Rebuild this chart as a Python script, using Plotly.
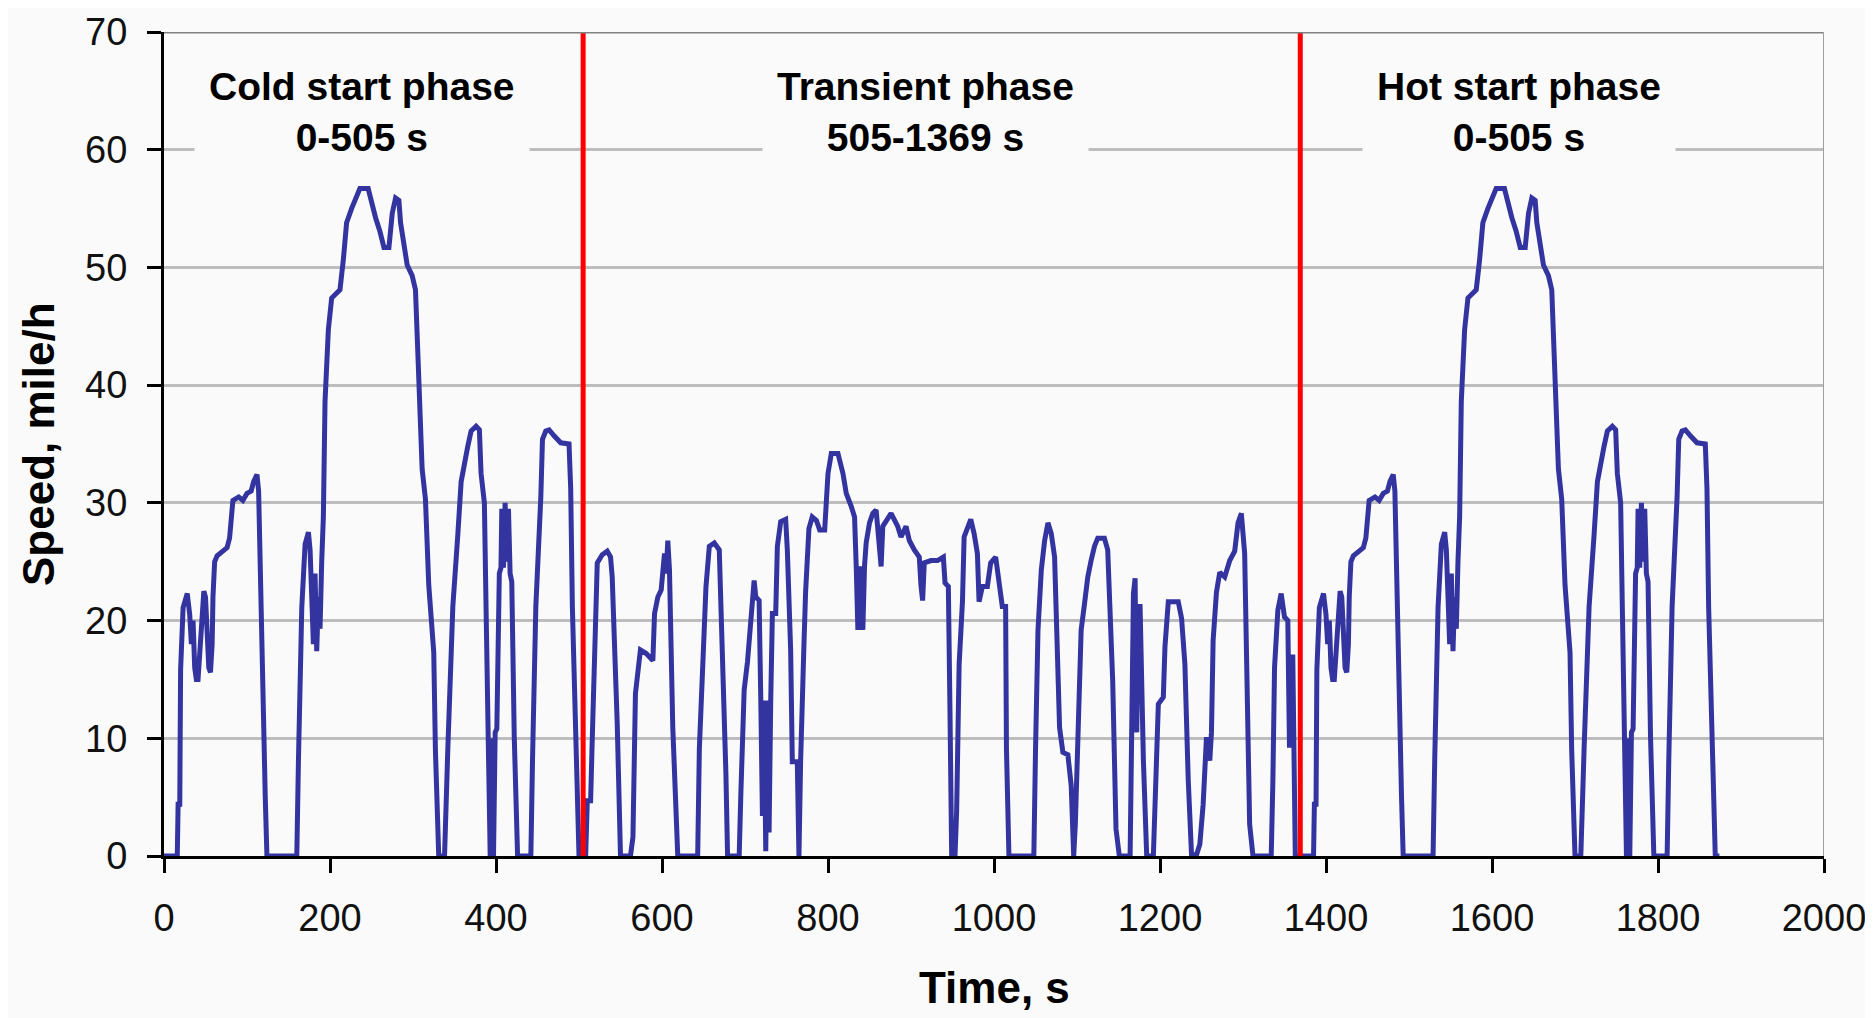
import plotly.graph_objects as go

# ---- data (time s, speed mile/h) ----
cold_start_phase = [
    (0, 0), (16, 0), (17, 4.4), (19, 4.4), (20, 15.8), (23, 21.1), (28, 22.3), (31, 20.5), (33, 18), (35, 20),
    (37, 16), (39, 15), (41, 15), (44, 18), (46, 21.5), (48, 22.5), (50, 22), (52, 19), (54, 16), (56, 15.6),
    (58, 18), (59, 22), (61, 25), (64, 25.5), (70, 25.8), (76, 26.2), (79, 27), (81, 29), (83, 30.2), (90, 30.5),
    (95, 30.2), (100, 30.8), (105, 31), (108, 31.8), (112, 32.4), (114, 31), (116, 23.5), (118, 17), (120, 10), (122, 5),
    (124, 0), (160, 0), (162, 8.2), (166, 21.1), (170, 26.5), (174, 27.5), (176, 26), (178, 22), (180, 18), (182, 24),
    (184, 17.4), (186, 22), (188, 19.3), (190, 25), (192, 28.8), (194, 38.6), (198, 44.7), (202, 47.4), (212, 48.1), (216, 50.6),
    (220, 53.8), (226, 55), (232, 56.1), (236, 56.7), (246, 56.7), (250, 55.4), (255, 54.2), (260, 53.1), (265, 51.7), (271, 51.7),
    (275, 54.6), (279, 55.9), (283, 55.7), (285, 53.8), (289, 51.6), (293, 50.2), (299, 49.3), (303, 48.1), (305, 44.3), (307, 39.4),
    (311, 32.9), (315, 30.3), (319, 23), (325, 17.3), (327, 9), (331, 0), (338, 0), (342, 9.2), (348, 21.2), (354, 27.3),
    (358, 31.8), (366, 34.8), (370, 36.1), (376, 36.5), (380, 36.2), (382, 32.5), (386, 30), (388, 21.2), (390, 10.4), (393, 0),
    (395, 10), (397, 0), (399, 10.5), (401, 10.8), (404, 24), (406, 24.5), (407, 29.5), (409, 24.5), (411, 30), (413, 25),
    (415, 29.5), (417, 24), (419, 23.3), (422, 10.1), (426, 0), (442, 0), (444, 8.2), (448, 21.2), (454, 30.5), (456, 35.4),
    (460, 36.1), (464, 36.2), (470, 35.7), (478, 35.1), (488, 35), (490, 31.2), (492, 21.2), (496, 12.1), (500, 0), (505, 0),
]

transient_phase = [
    (505, 0), (508, 0), (510, 4.7), (514, 4.7), (516, 10), (520, 21.7), (522, 24.9), (528, 25.6), (534, 25.9), (538, 25.4),
    (540, 23.7), (546, 11.4), (550, 0), (562, 0), (565, 1.6), (568, 13.8), (574, 17.5), (581, 17.2), (589, 16.6), (591, 20.6),
    (595, 22), (599, 22.6), (603, 25.7), (605, 24), (607, 26.8), (609, 24.3), (613, 10.9), (619, 0), (643, 0), (645, 9.1),
    (649, 16.3), (653, 22.9), (657, 26.3), (663, 26.6), (669, 26), (673, 17.2), (677, 7), (679, 0), (693, 0), (695, 5.3),
    (699, 14.1), (703, 16.5), (707, 20.6), (709, 22.4), (711, 23.4), (713, 22), (717, 21.7), (719, 13.4), (721, 3.4), (723, 13.2),
    (725, 0.4), (727, 13.2), (729, 2), (731, 13.2), (733, 20.6), (737, 20.6), (739, 26.3), (743, 28.4), (749, 28.6), (751, 26),
    (755, 17.5), (757, 8), (763, 8), (765, 0), (767, 8), (771, 17.9), (773, 22.4), (777, 27.8), (781, 28.8), (786, 28.5),
    (790, 27.7), (796, 27.7), (800, 32.5), (804, 34.2), (812, 34.2), (818, 32.5), (822, 30.8), (828, 29.7), (832, 28.8), (834, 24.6),
    (836, 19.2), (838, 24.6), (842, 19.2), (844, 24.6), (846, 26.6), (850, 28.3), (854, 29.1), (858, 29.4), (862, 26), (864, 24.6),
    (866, 28), (870, 28.5), (876, 29.1), (884, 28), (888, 27.1), (894, 28), (898, 26.8), (904, 26), (910, 25.4), (912, 23),
    (914, 21.7), (916, 24.9), (924, 25.1), (932, 25.1), (939, 25.4), (941, 23.2), (945, 22.9), (947, 12.1), (949, 0), (953, 0),
    (955, 3.8), (958, 16.3), (962, 21.6), (964, 27.1), (968, 28), (972, 28.6), (976, 27.4), (980, 25.7), (982, 21.6), (986, 22.9),
    (992, 22.9), (996, 24.9), (1002, 25.4), (1006, 23.4), (1010, 21.2), (1014, 21.2), (1015, 9.1), (1018, 0), (1048, 0), (1050, 8.9),
    (1053, 19.2), (1057, 24.3), (1061, 26.8), (1065, 28.3), (1069, 27.4), (1073, 25.4), (1075, 19.2), (1079, 10.9), (1083, 8.8), (1089, 8.6),
    (1093, 6), (1096, 0), (1098, 2.7), (1103, 13.5), (1105, 19.2), (1109, 21.4), (1113, 23.7), (1117, 25.1), (1121, 26.3), (1125, 27),
    (1133, 27), (1137, 26), (1139, 22.3), (1143, 14.9), (1147, 2.3), (1151, 0), (1164, 0), (1166, 10.4), (1168, 22.3), (1170, 23.6),
    (1172, 10.5), (1174, 21.2), (1176, 21.2), (1180, 8.1), (1184, 0), (1192, 0), (1194, 4.8), (1198, 12.9), (1204, 13.5), (1206, 17.8),
    (1210, 21.6), (1222, 21.6), (1226, 20.2), (1230, 16.3), (1234, 6.5), (1238, 0.1), (1244, 0.1), (1248, 1), (1252, 4.4), (1256, 10.1),
    (1260, 8.1), (1262, 10.5), (1264, 18.3), (1268, 22.4), (1272, 24.1), (1278, 23.7), (1284, 25.1), (1290, 25.9), (1294, 28.3), (1298, 29.1),
    (1302, 25.7), (1304, 16.3), (1308, 2.7), (1312, 0), (1334, 0), (1336, 6.4), (1338, 16), (1342, 20.9), (1346, 22.3), (1350, 20.3),
    (1354, 20), (1356, 9.2), (1358, 16.9), (1360, 16.9), (1363, 0), (1369, 0),
]

hot_start_phase = [
    (1369, 0), (1385, 0), (1386, 4.4), (1388, 4.4), (1389, 15.8), (1392, 21.1), (1397, 22.3), (1400, 20.5), (1402, 18), (1404, 20),
    (1406, 16), (1408, 15), (1410, 15), (1413, 18), (1415, 21.5), (1417, 22.5), (1419, 22), (1421, 19), (1423, 16), (1425, 15.6),
    (1427, 18), (1428, 22), (1430, 25), (1433, 25.5), (1439, 25.8), (1445, 26.2), (1448, 27), (1450, 29), (1452, 30.2), (1459, 30.5),
    (1464, 30.2), (1469, 30.8), (1474, 31), (1477, 31.8), (1481, 32.4), (1483, 31), (1485, 23.5), (1487, 17), (1489, 10), (1491, 5),
    (1493, 0), (1529, 0), (1531, 8.2), (1535, 21.1), (1539, 26.5), (1543, 27.5), (1545, 26), (1547, 22), (1549, 18), (1551, 24),
    (1553, 17.4), (1555, 22), (1557, 19.3), (1559, 25), (1561, 28.8), (1563, 38.6), (1567, 44.7), (1571, 47.4), (1581, 48.1), (1585, 50.6),
    (1589, 53.8), (1595, 55), (1601, 56.1), (1605, 56.7), (1615, 56.7), (1619, 55.4), (1624, 54.2), (1629, 53.1), (1634, 51.7), (1640, 51.7),
    (1644, 54.6), (1648, 55.9), (1652, 55.7), (1654, 53.8), (1658, 51.6), (1662, 50.2), (1668, 49.3), (1672, 48.1), (1674, 44.3), (1676, 39.4),
    (1680, 32.9), (1684, 30.3), (1688, 23), (1694, 17.3), (1696, 9), (1700, 0), (1707, 0), (1711, 9.2), (1717, 21.2), (1723, 27.3),
    (1727, 31.8), (1735, 34.8), (1739, 36.1), (1745, 36.5), (1749, 36.2), (1751, 32.5), (1755, 30), (1757, 21.2), (1759, 10.4), (1762, 0),
    (1764, 10), (1766, 0), (1768, 10.5), (1770, 10.8), (1773, 24), (1775, 24.5), (1776, 29.5), (1778, 24.5), (1780, 30), (1782, 25),
    (1784, 29.5), (1786, 24), (1788, 23.3), (1791, 10.1), (1795, 0), (1811, 0), (1813, 8.2), (1817, 21.2), (1823, 30.5), (1825, 35.4),
    (1829, 36.1), (1833, 36.2), (1839, 35.7), (1847, 35.1), (1857, 35), (1859, 31.2), (1861, 21.2), (1865, 12.1), (1869, 0), (1874, 0),
]

phase_boundaries = [505, 1369]
phase_labels = ["Cold start phase<br>0-505 s", "Transient phase<br>505-1369 s", "Hot start phase<br>0-505 s"]
phase_label_x = [239, 917, 1633]
phase_label_y = 63.2

x_ticks = list(range(0, 2001, 200))
y_ticks = list(range(0, 71, 10))

# ---- style ----
BG = "#FAFAFA"
BLUE = "#3434A0"
TICK_FONT = dict(family="Liberation Sans, Arial", size=38, color="#111111")
BOLD = "Liberation Sans, Arial"

fig = go.Figure()
for phase in (cold_start_phase, transient_phase, hot_start_phase):
    fig.add_trace(go.Scatter(
        x=[p[0] for p in phase], y=[p[1] for p in phase],
        mode="lines", line=dict(color=BLUE, width=5), showlegend=False, hoverinfo="skip",
    ))
for b in phase_boundaries:
    fig.add_trace(go.Scatter(
        x=[b, b], y=[0, 70], mode="lines", line=dict(color="#FF0000", width=5),
        showlegend=False, hoverinfo="skip",
    ))

for txt, lx in zip(phase_labels, phase_label_x):
    fig.add_annotation(
        x=lx, y=phase_label_y, xref="x", yref="y", text=f"<b>{txt}</b>", showarrow=False,
        font=dict(family=BOLD, size=39, color="#000000"), bgcolor=BG, borderpad=14,
        xanchor="center", yanchor="middle",
    )

fig.add_annotation(
    x=0.5, y=0, xref="paper", yref="paper", text="<b>Time, s</b>", showarrow=False,
    font=dict(family=BOLD, size=44, color="#000000"), xanchor="center", yanchor="middle", yshift=-131,
)
fig.add_annotation(
    x=0, y=0.5, xref="paper", yref="paper", text="<b>Speed, mile/h</b>", showarrow=False, textangle=-90,
    font=dict(family=BOLD, size=44, color="#000000"), xanchor="center", yanchor="middle", xshift=-126,
)

# plot area border (top and right, grey)
fig.add_shape(type="line", xref="paper", yref="y", x0=0, x1=1, y0=70, y1=70, line=dict(color="#808080", width=3))
fig.add_shape(type="line", xref="x", yref="paper", x0=2000, x1=2000, y0=0, y1=1, line=dict(color="#A0A0A0", width=2))

# the page body adds an 8 px offset, so the figure is 8 px smaller than the window
fig.update_layout(
    width=1865, height=1010,
    margin=dict(l=156, r=49, t=24, b=162, autoexpand=False),
    paper_bgcolor=BG, plot_bgcolor=BG,
    showlegend=False,
)
fig.update_xaxes(
    range=[0, 2000], tickvals=x_ticks, ticktext=[str(v) for v in x_ticks],
    showgrid=False, zeroline=False, showline=True, linecolor="#000000", linewidth=3,
    ticks="outside", ticklen=14, tickwidth=3, tickcolor="#000000",
    tickfont=TICK_FONT, ticklabelstandoff=12, automargin=False,
)
fig.update_yaxes(
    range=[0, 70], tickvals=y_ticks, ticktext=[str(v) for v in y_ticks],
    showgrid=True, gridcolor="#BDBDBD", gridwidth=2.5, zeroline=False,
    showline=True, linecolor="#000000", linewidth=3,
    ticks="outside", ticklen=14, tickwidth=3, tickcolor="#000000",
    tickfont=TICK_FONT, ticklabelstandoff=12, automargin=False,
)

fig.write_html("out.html")
